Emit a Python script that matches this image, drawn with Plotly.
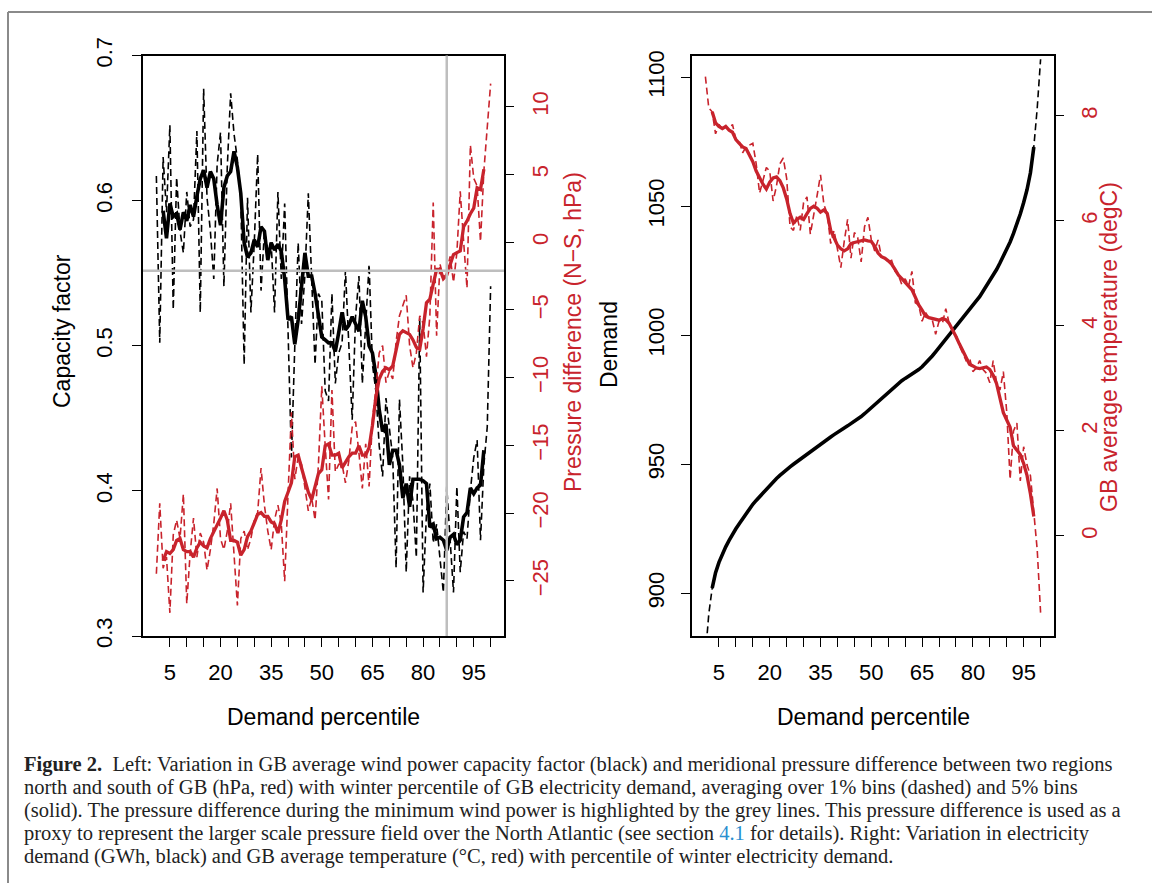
import plotly.graph_objects as go

# ---------------- data ----------------
pct_1 = list(range(1, 101))      # 1% bins
pct_5 = list(range(3, 99))       # 5% running bins (centres)

cf_1 = [0.617, 0.502, 0.630, 0.592, 0.652, 0.525, 0.616, 0.579, 0.564, 0.606,
        0.582, 0.587, 0.648, 0.523, 0.677, 0.602, 0.579, 0.546, 0.625, 0.647,
        0.541, 0.623, 0.674, 0.646, 0.628, 0.602, 0.487, 0.602, 0.523, 0.571,
        0.632, 0.538, 0.579, 0.566, 0.571, 0.523, 0.606, 0.546, 0.598, 0.515,
        0.423, 0.500, 0.571, 0.515, 0.549, 0.605, 0.541, 0.487, 0.536, 0.531,
        0.469, 0.462, 0.536, 0.474, 0.495, 0.502, 0.552, 0.497, 0.449, 0.520,
        0.548, 0.474, 0.515, 0.556, 0.487, 0.469, 0.431, 0.410, 0.464, 0.444,
        0.423, 0.347, 0.463, 0.418, 0.344, 0.410, 0.393, 0.354, 0.519, 0.330,
        0.385, 0.405, 0.364, 0.377, 0.354, 0.330, 0.403, 0.367, 0.330, 0.403,
        0.344, 0.372, 0.367, 0.400, 0.423, 0.435, 0.366, 0.418, 0.444, 0.541]

cf_5 = [0.593, 0.574, 0.598, 0.589, 0.591, 0.580, 0.592, 0.586, 0.597, 0.589,
        0.603, 0.615, 0.621, 0.609, 0.620, 0.615, 0.597, 0.583, 0.609, 0.617,
        0.620, 0.634, 0.623, 0.605, 0.571, 0.561, 0.564, 0.573, 0.568, 0.582,
        0.579, 0.559, 0.571, 0.566, 0.570, 0.565, 0.546, 0.518, 0.520, 0.501,
        0.518, 0.543, 0.564, 0.548, 0.548, 0.536, 0.520, 0.506, 0.504, 0.502,
        0.502, 0.496, 0.509, 0.523, 0.511, 0.514, 0.520, 0.515, 0.510, 0.531,
        0.520, 0.500, 0.495, 0.480, 0.456, 0.441, 0.446, 0.418, 0.428, 0.428,
        0.418, 0.395, 0.405, 0.389, 0.408, 0.408, 0.408, 0.407, 0.405, 0.375,
        0.377, 0.367, 0.368, 0.366, 0.359, 0.368, 0.370, 0.363, 0.366, 0.382,
        0.385, 0.402, 0.398, 0.402, 0.404, 0.428]

dp_1 = [-24.47, -19.27, -24.06, -23.24, -27.35, -21.60, -20.50, -21.87, -18.58, -26.67,
        -22.97, -20.36, -23.24, -21.46, -22.14, -24.20, -22.69, -20.77, -18.17, -21.87,
        -22.69, -21.32, -19.27, -22.97, -26.80, -21.87, -21.32, -22.69, -21.87, -20.50,
        -19.95, -16.66, -19.40, -21.32, -22.69, -20.50, -19.40, -20.77, -25.02, -18.58,
        -12.55, -17.49, -15.84, -16.39, -18.31, -19.82, -18.86, -20.50, -16.39, -10.64,
        -15.02, -18.99, -10.91, -16.94, -16.39, -16.39, -17.76, -16.12, -13.65, -13.24,
        -15.57, -18.17, -14.88, -18.03, -13.10, -10.91, -8.17, -7.62, -10.36, -9.54,
        -10.09, -7.35, -5.43, -4.61, -3.92, -7.62, -9.27, -8.17, -5.43, -5.98,
        -8.44, -5.43, 2.93, -6.90, -1.59, -2.69, -2.14, -1.05, -2.96, -0.77,
        3.75, 0.05, -3.38, 7.17, 4.71, 4.16, 0.05, 5.26, 8.27, 11.70]

dp_5 = [-23.51, -22.83, -22.97, -22.69, -22.01, -21.87, -22.69, -22.83, -22.83, -23.24,
        -22.56, -22.14, -22.42, -22.56, -21.87, -21.32, -20.91, -20.36, -19.82, -20.50,
        -22.01, -22.01, -22.14, -23.10, -22.69, -21.73, -21.32, -20.64, -20.09, -19.95,
        -20.23, -20.23, -20.64, -20.77, -21.46, -20.50, -19.13, -18.45, -17.76, -15.84,
        -15.71, -16.66, -17.62, -18.45, -18.99, -17.90, -17.08, -16.80, -15.02, -14.88,
        -15.71, -15.71, -15.57, -16.66, -16.25, -15.84, -15.57, -15.57, -15.02, -15.71,
        -15.71, -15.16, -13.51, -11.46, -10.09, -9.54, -9.27, -9.40, -9.13, -8.03,
        -6.80, -6.53, -6.66, -6.80, -7.21, -7.76, -7.90, -6.39, -4.47, -4.20,
        -3.10, -2.00, -2.00, -2.69, -2.42, -1.73, -0.91, -0.77, -0.64, 1.15,
        1.56, 2.10, 2.52, 4.02, 3.89, 5.39]

demand_1 = [876, 892, 902, 908, 912, 915.5, 918, 920.5, 923, 925,
            927, 929, 931, 933, 934.5, 936, 937.5, 939, 940.5, 942,
            943.3, 944.5, 945.7, 946.9, 948, 949, 950, 951, 952, 953,
            954, 955, 956, 957, 958, 959, 959.8, 960.6, 961.5, 962.5,
            963.3, 964.1, 964.9, 965.7, 966.6, 967.5, 968.5, 969.6, 970.8, 972,
            973.2, 974.4, 975.6, 976.8, 978, 979.2, 980.3, 981.4, 982.4, 983.3,
            984.1, 984.9, 985.8, 986.7, 987.8, 989.1, 990.5, 992, 993.6, 995.2,
            996.8, 998.4, 1000, 1001.7, 1003.4, 1005, 1006.6, 1008.2, 1009.9, 1011.6,
            1013.3, 1015, 1017, 1019, 1021, 1023.2, 1025.5, 1028, 1030.5, 1033.2,
            1036.2, 1039.5, 1043, 1047, 1051.5, 1056.5, 1063, 1073, 1088, 1107]

demand_5 = [902, 908, 912, 915.5, 918, 920.5, 923, 925,
            927, 929, 931, 933, 934.5, 936, 937.5, 939, 940.5, 942,
            943.3, 944.5, 945.7, 946.9, 948, 949, 950, 951, 952, 953,
            954, 955, 956, 957, 958, 959, 959.8, 960.6, 961.5, 962.5,
            963.3, 964.1, 964.9, 965.7, 966.6, 967.5, 968.5, 969.6, 970.8, 972,
            973.2, 974.4, 975.6, 976.8, 978, 979.2, 980.3, 981.4, 982.4, 983.3,
            984.1, 984.9, 985.8, 986.7, 987.8, 989.1, 990.5, 992, 993.6, 995.2,
            996.8, 998.4, 1000, 1001.7, 1003.4, 1005, 1006.6, 1008.2, 1009.9, 1011.6,
            1013.3, 1015, 1017, 1019, 1021, 1023.2, 1025.5, 1028, 1030.5, 1033.2,
            1036.2, 1039.5, 1043, 1047, 1051.5, 1056.5, 1063, 1073]

temp_1 = [8.75, 8.15, 8.08, 7.66, 7.84, 7.76, 7.80, 7.73, 7.84, 7.55,
          7.52, 7.30, 7.41, 7.45, 7.48, 7.09, 6.53, 6.77, 7.02, 6.95,
          6.38, 6.67, 7.09, 7.20, 6.81, 5.89, 5.82, 6.10, 5.82, 6.35,
          6.46, 5.75, 6.10, 6.49, 6.88, 6.31, 6.14, 5.57, 5.82, 5.47,
          5.11, 5.61, 6.03, 5.29, 5.78, 5.68, 5.22, 5.89, 6.07, 5.64,
          5.43, 5.64, 5.32, 5.29, 5.22, 5.25, 5.04, 4.97, 4.79, 4.90,
          4.76, 5.04, 4.44, 4.40, 4.09, 4.26, 4.16, 4.12, 3.84, 4.09,
          4.05, 4.33, 4.05, 3.91, 3.84, 3.63, 3.49, 3.34, 3.40, 3.13,
          3.20, 3.34, 3.17, 3.10, 2.92, 3.34, 2.92, 2.78, 3.13, 2.36,
          1.08, 2.00, 2.15, 1.05, 1.70, 1.35, 1.15, 0.37, -0.26, -1.46]

temp_5 = [8.08, 7.87, 7.80, 7.76, 7.80, 7.73, 7.69, 7.55, 7.48, 7.41,
          7.38, 7.27, 7.13, 6.95, 6.81, 6.70, 6.61, 6.74, 6.82, 6.84,
          6.77, 6.63, 6.42, 6.14, 5.96, 6.03, 6.07, 6.03, 6.14, 6.24,
          6.28, 6.24, 6.17, 6.21, 6.14, 5.82, 5.68, 5.54, 5.47, 5.43,
          5.47, 5.57, 5.59, 5.61, 5.62, 5.64, 5.62, 5.61, 5.52, 5.39,
          5.32, 5.29, 5.24, 5.18, 5.08, 4.97, 4.90, 4.83, 4.76, 4.69,
          4.55, 4.40, 4.30, 4.19, 4.16, 4.14, 4.12, 4.11, 4.14, 4.12,
          4.05, 3.94, 3.80, 3.66, 3.52, 3.38, 3.27, 3.24, 3.20, 3.19,
          3.20, 3.22, 3.17, 3.06, 2.90, 2.65, 2.35, 2.21, 2.07, 1.72,
          1.64, 1.55, 1.38, 1.15, 0.80, 0.37]

x_ticks = [5, 10, 15, 20, 25, 30, 35, 40, 45, 50, 55, 60, 65, 70, 75, 80, 85, 90, 95, 100]
x_labels = ["5", "", "", "20", "", "", "35", "", "", "50", "", "", "65", "", "", "80", "", "", "95", ""]
cf_ticks = [0.3, 0.4, 0.5, 0.6, 0.7]
cf_labels = ["0.3", "0.4", "0.5", "0.6", "0.7"]
dp_ticks = [-25, -20, -15, -10, -5, 0, 5, 10]
dp_labels = ["\u221225", "\u221220", "\u221215", "\u221210", "\u22125", "0", "5", "10"]
dem_ticks = [900, 950, 1000, 1050, 1100]
dem_labels = ["900", "950", "1000", "1050", "1100"]
t_ticks = [0, 2, 4, 6, 8]
t_labels = ["0", "2", "4", "6", "8"]

min_wind_pct = 87
min_wind_dp = -2.1

# ---------------- style ----------------
W, H = 1152, 883
RED = "#c8232c"
GREY = "#bebebe"
FONT = "Liberation Sans"
TICKF = 22
DASH = "7px,4px"

def px_x(p):
    return p / W

def px_y(p):
    return 1 - p / H

fig = go.Figure()

# Left panel
fig.add_trace(go.Scatter(x=pct_1, y=cf_1, mode="lines", xaxis="x", yaxis="y",
                         line=dict(color="black", width=1.6, dash=DASH), showlegend=False))
fig.add_trace(go.Scatter(x=pct_5, y=cf_5, mode="lines", xaxis="x", yaxis="y",
                         line=dict(color="black", width=3.6), showlegend=False))
fig.add_trace(go.Scatter(x=pct_1, y=dp_1, mode="lines", xaxis="x", yaxis="y2",
                         line=dict(color=RED, width=1.6, dash=DASH), showlegend=False))
fig.add_trace(go.Scatter(x=pct_5, y=dp_5, mode="lines", xaxis="x", yaxis="y2",
                         line=dict(color=RED, width=3.3), showlegend=False))

# Right panel
fig.add_trace(go.Scatter(x=pct_1, y=demand_1, mode="lines", xaxis="x2", yaxis="y3",
                         line=dict(color="black", width=1.6, dash=DASH), showlegend=False))
fig.add_trace(go.Scatter(x=pct_5, y=demand_5, mode="lines", xaxis="x2", yaxis="y3",
                         line=dict(color="black", width=3.6), showlegend=False))
fig.add_trace(go.Scatter(x=pct_1, y=temp_1, mode="lines", xaxis="x2", yaxis="y4",
                         line=dict(color=RED, width=1.6, dash=DASH), showlegend=False))
fig.add_trace(go.Scatter(x=pct_5, y=temp_5, mode="lines", xaxis="x2", yaxis="y4",
                         line=dict(color=RED, width=3.3), showlegend=False))

xrng = [-2.96, 103.96]
ydom = [px_y(636), px_y(55.5)]

def xax(dom, anchor):
    return dict(domain=dom, anchor=anchor, range=xrng, showgrid=False, zeroline=False,
                automargin=False,
                showline=True, mirror=True, linecolor="black", linewidth=1.5,
                ticks="outside", ticklen=9, tickwidth=1.2, tickcolor="black",
                tickvals=x_ticks, ticktext=x_labels, ticklabelstandoff=7,
                tickfont=dict(family=FONT, size=TICKF, color="black"))

def yax(rng, ticks, labels, side, color, anchor, standoff, overlay=None, line=True):
    d = dict(range=rng, anchor=anchor, side=side, showgrid=False, zeroline=False,
             automargin=False,
             showline=line, mirror=line, linecolor="black", linewidth=1.5,
             ticks="outside", ticklen=9, tickwidth=1.2, tickcolor="black",
             tickvals=ticks, ticktext=labels, tickangle=-90, ticklabelstandoff=standoff,
             tickfont=dict(family=FONT, size=TICKF, color=color))
    if overlay:
        d["overlaying"] = overlay
    else:
        d["domain"] = ydom
    return d

fig.update_layout(
    width=W, height=H, autosize=False,
    margin=dict(l=0, r=0, t=0, b=0, pad=0),
    paper_bgcolor="white", plot_bgcolor="white",
    xaxis=xax([px_x(143), px_x(504)], "y"),
    xaxis2=xax([px_x(692), px_x(1054)], "y3"),
    yaxis=yax([0.3, 0.7], cf_ticks, cf_labels, "left", "black", "x", 11),
    yaxis2=yax([-29.06, 13.78], dp_ticks, dp_labels, "right", RED, "x", 8, overlay="y", line=False),
    yaxis3=yax([883.45, 1108.45], dem_ticks, dem_labels, "left", "black", "x2", 8),
    yaxis4=yax([-1.905, 9.152], t_ticks, t_labels, "right", RED, "x2", 7, overlay="y3", line=False),
)

# grey highlight lines (minimum wind power)
fig.add_shape(type="line", xref="x domain", yref="y2", x0=0, x1=1, y0=min_wind_dp, y1=min_wind_dp,
              line=dict(color=GREY, width=2.5), layer="above")
fig.add_shape(type="line", xref="x", yref="y domain", x0=min_wind_pct, x1=min_wind_pct, y0=0, y1=1,
              line=dict(color=GREY, width=2.5), layer="above")

# page frame
fig.add_shape(type="line", xref="paper", yref="paper", x0=px_x(8), x1=1, y0=px_y(12), y1=px_y(12),
              line=dict(color="#8a8a8a", width=2))
fig.add_shape(type="line", xref="paper", yref="paper", x0=px_x(8), x1=px_x(8), y0=px_y(12), y1=0,
              line=dict(color="#8a8a8a", width=2))

TITLEF = 23
def title(text, x, y, angle=0, color="black"):
    fig.add_annotation(text=text, x=px_x(x), y=px_y(y), xref="paper", yref="paper",
                       showarrow=False, textangle=angle, xanchor="center", yanchor="middle",
                       font=dict(family=FONT, size=TITLEF, color=color))

title("Capacity factor", 62, 331, -90)
title("Pressure difference (N\u2212S, hPa)", 573, 332, -90, RED)
title("Demand percentile", 323.5, 717)
title("Demand", 609, 345, -90)
title("GB average temperature (degC)", 1109, 347, -90, RED)
title("Demand percentile", 873, 717)

caption = [
    "<b>Figure 2.</b>  Left: Variation in GB average wind power capacity factor (black) and meridional pressure difference between two regions",
    "north and south of GB (hPa, red) with winter percentile of GB electricity demand, averaging over 1% bins (dashed) and 5% bins",
    "(solid). The pressure difference during the minimum wind power is highlighted by the grey lines. This pressure difference is used as a",
    "proxy to represent the larger scale pressure field over the North Atlantic (see section <span style='color:#2a8fd0'>4.1</span> for details). Right: Variation in electricity",
    "demand (GWh, black) and GB average temperature (\u00b0C, red) with percentile of winter electricity demand.",
]
for i, line in enumerate(caption):
    fig.add_annotation(text=line, x=px_x(22), y=px_y(764 + 23 * i), xref="paper", yref="paper",
                       showarrow=False, xanchor="left", yanchor="middle", align="left",
                       font=dict(family="Liberation Serif", size=20.5, color="#222"))

fig.write_html("out.html",
               config={"displayModeBar": False, "responsive": False},
               post_script="document.body.style.margin='0px';document.documentElement.style.overflow='hidden';document.body.style.overflow='hidden';")
